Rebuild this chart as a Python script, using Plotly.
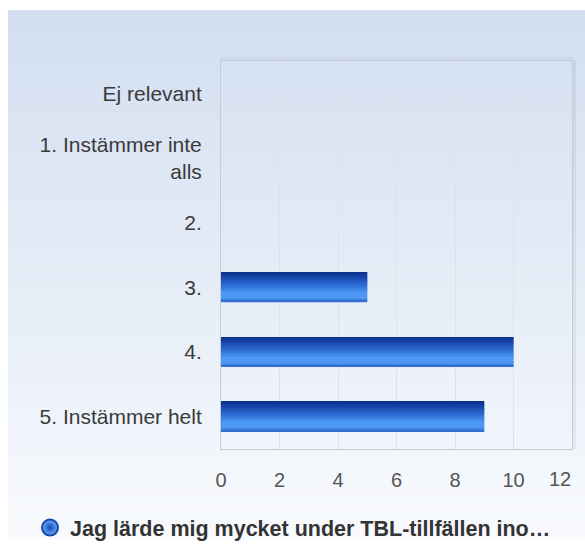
import plotly.graph_objects as go

# ---- data ----
categories = ["Ej relevant", "1. Instämmer inte<br>alls", "2.", "3.", "4.", "5. Instämmer helt"]
values = [0, 0, 0, 5, 10, 9]
series_name = "Jag lärde mig mycket under TBL-tillfällen ino…"
x_ticks = [0, 2, 4, 6, 8, 10, 12]

# ---- geometry (pixels, figure coordinates) ----
W, H = 577, 552
ML, MR, MT, MB = 213, 13, 53, 94
PW, PH = W - ML - MR, H - MT - MB

def px_to_paper_x(px):
    return (px - ML) / PW

def px_to_paper_y(py):
    return (H - MB - py) / PH

def hex_to_rgb(h):
    h = h.lstrip("#")
    return tuple(int(h[i:i + 2], 16) for i in (0, 2, 4))

def lerp_stops(stops, t):
    for (t0, c0), (t1, c1) in zip(stops[:-1], stops[1:]):
        if t0 <= t <= t1:
            f = 0 if t1 == t0 else (t - t0) / (t1 - t0)
            a, b = hex_to_rgb(c0), hex_to_rgb(c1)
            return "rgb(%d,%d,%d)" % tuple(round(a[i] + (b[i] - a[i]) * f) for i in range(3))
    return stops[-1][1]

fig = go.Figure()

# gradient bars built from thin overlaid strips
bar_stops = [(0.0, "#0a2f8c"), (0.18, "#1646a8"), (0.45, "#2d6cd6"),
             (0.7, "#4b98f6"), (0.88, "#4c98f4"), (1.0, "#2c66c8")]
bar_thick = 0.46
n_strips = 22
sw = bar_thick / n_strips
for i in range(n_strips):
    t = (i + 0.5) / n_strips
    fig.add_trace(go.Bar(
        x=values, y=categories, orientation="h",
        width=sw * 1.08, offset=-bar_thick / 2 + i * sw,
        marker=dict(color=lerp_stops(bar_stops, t), line=dict(width=0)),
        showlegend=False, hoverinfo="x+y" if i == 0 else "skip",
        name=series_name,
    ))

# legend entry with sphere-like marker
fig.add_trace(go.Scatter(
    x=[None], y=[None], mode="markers", name=series_name,
    marker=dict(symbol="circle", size=16, color="#6aaeff",
                gradient=dict(type="radial", color="#1446b0"),
                line=dict(width=2, color="#1446b0")),
    showlegend=True,
))

# background gradient over the whole paper
shapes = []
bg_stops = [(0.0, "#d2def0"), (1.0, "#f8fafd")]
n_bg = 60
for i in range(n_bg):
    y0 = H * i / n_bg
    y1 = min(H * (i + 1) / n_bg + 0.6, H)
    shapes.append(dict(
        type="rect", xref="paper", yref="paper", layer="below",
        x0=px_to_paper_x(0), x1=px_to_paper_x(W),
        y0=px_to_paper_y(y0), y1=px_to_paper_y(y1),
        fillcolor=lerp_stops(bg_stops, (i + 0.5) / n_bg), line=dict(width=0),
    ))
# soft shadow on plot frame (right and top)
shapes.append(dict(type="line", xref="paper", yref="paper", layer="below",
                   x0=1 + 2.5 / PW, x1=1 + 2.5 / PW, y0=0, y1=1 + 1 / PH,
                   line=dict(color="rgba(120,130,150,0.12)", width=3)))
shapes.append(dict(type="line", xref="paper", yref="paper", layer="below",
                   x0=0, x1=1 + 1 / PW, y0=1 + 2.5 / PH, y1=1 + 2.5 / PH,
                   line=dict(color="rgba(120,130,150,0.08)", width=3)))

tick_font = dict(family="Liberation Sans, Arial, sans-serif", size=20, color="#555555")
# last tick label is pulled inside the frame, as in the original chart
tick_text = [str(v) for v in x_ticks[:-1]] + [""]
annotations = [dict(text=str(x_ticks[-1]), x=x_ticks[-1], xref="x",
                    y=px_to_paper_y(489), yref="paper", yanchor="middle",
                    xanchor="center", xshift=-12, showarrow=False, font=tick_font)]

fig.update_layout(
    width=W, height=H,
    margin=dict(l=ML, r=MR, t=MT, b=MB, pad=0),
    paper_bgcolor="white", plot_bgcolor="rgba(0,0,0,0)",
    barmode="overlay",
    font=dict(family="Liberation Sans, Arial, sans-serif", size=20, color="#333333"),
    shapes=shapes, annotations=annotations,
    showlegend=True,
    legend=dict(orientation="h", x=px_to_paper_x(22), xanchor="left",
                y=px_to_paper_y(540), yanchor="middle",
                font=dict(family="Liberation Sans, Arial, sans-serif", size=21.5,
                          color="#333333", weight="bold"),
                bgcolor="rgba(0,0,0,0)", itemclick=False),
    xaxis=dict(range=[0, 12], tickvals=x_ticks, ticktext=tick_text,
               showgrid=True, gridcolor="#dde3eb", gridwidth=1,
               zeroline=False, showline=True, linecolor="#c5ccd6", linewidth=1,
               mirror=True, ticks="", ticklabelstandoff=13,
               tickfont=tick_font, fixedrange=True),
    yaxis=dict(categoryorder="array", categoryarray=categories,
               autorange="reversed", showgrid=False, zeroline=False,
               showline=True, linecolor="#c5ccd6", linewidth=1, mirror=True,
               ticks="", ticklabelstandoff=14,
               tickfont=dict(size=21, color="#3a3a3a"), fixedrange=True),
)

fig.write_html("out.html",
               post_script="document.body.style.margin='8px 0 0 8px';"
                           "document.documentElement.style.overflow='hidden';")
